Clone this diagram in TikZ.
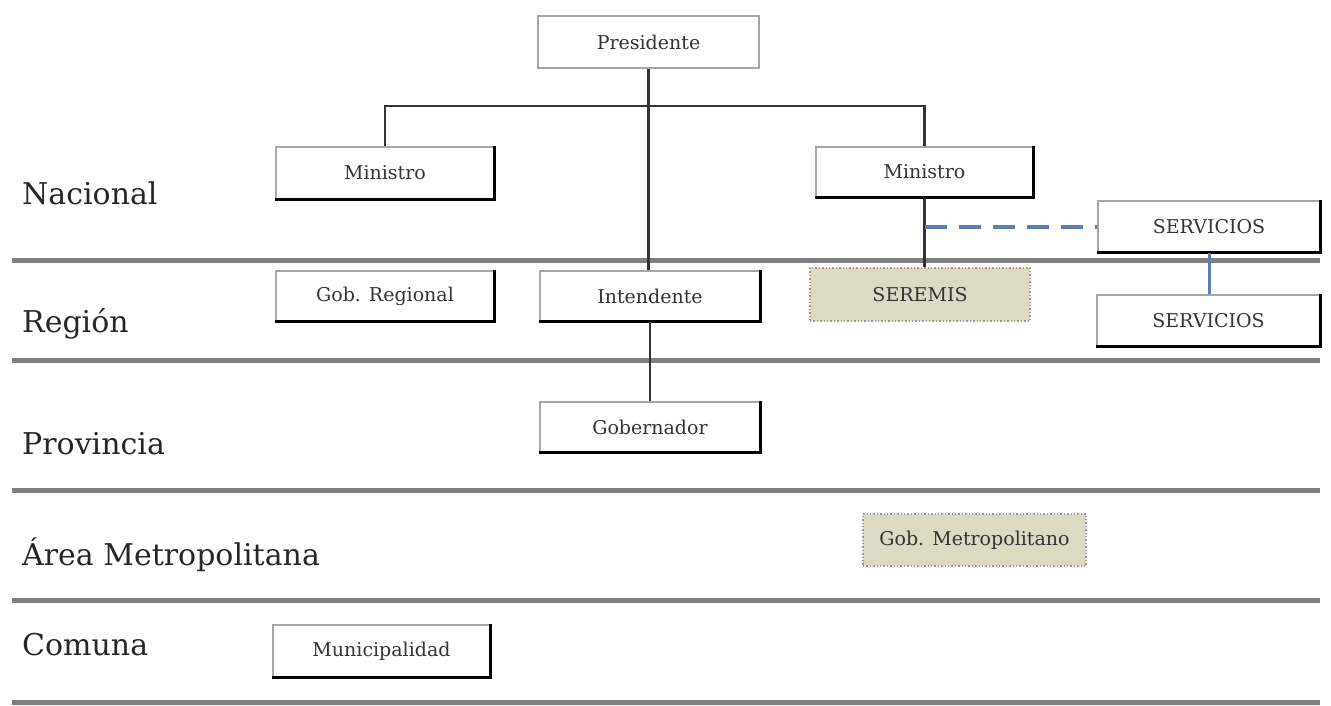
\documentclass[tikz,border=0pt]{standalone}
\usepackage{fontspec}
\setmainfont{DejaVu Serif}
\definecolor{beige}{HTML}{DDD9C3}
\definecolor{divgray}{HTML}{7F7F7F}
\definecolor{linkblue}{HTML}{5B7FB5}
\definecolor{txt}{HTML}{333333}
\begin{document}
\begin{tikzpicture}[x=1pt,y=-1pt,
  boxbase/.style={rectangle, inner sep=0pt, text=txt, font=\fontsize{19}{22}\selectfont},
  plainbox/.style={boxbase, draw=gray!70, line width=1.4pt},
  beigebox/.style={boxbase, draw=gray!80, dotted, line width=1.4pt, fill=beige},
  shad/.style={black, line width=3pt, line join=miter},
  conn/.style={draw=gray!40!black, line width=2.2pt},
  divider/.style={divgray, line width=5pt},
  level/.style={anchor=west, inner sep=0pt, text=black!85, font=\fontsize{30}{36}\selectfont}
]
\useasboundingbox (0,0) rectangle (1331,705);

% dividers
\foreach \yy in {260,360,490,600,702} \draw[divider] (12,\yy) -- (1320,\yy);

% level labels
\node[level] (lnac) at (22,193) {Nacional};
\node[level] (lreg) at (22,324) {Región};
\node[level] (lpro) at (22,444) {Provincia};
\node[level] (lmet) at (22,555) {Área Metropolitana};
\node[level] (lcom) at (22,645) {Comuna};

% boxes
\node[plainbox, minimum width=221pt, minimum height=52pt] (pres) at (648.5,42) {Presidente};
\node[plainbox, minimum width=218pt, minimum height=52pt] (ml) at (385,173) {Ministro};
\node[plainbox, minimum width=217pt, minimum height=50pt] (mr) at (924.5,172) {Ministro};
\node[plainbox, minimum width=222pt, minimum height=51pt] (st) at (1209,226.5) {SERVICIOS};
\node[plainbox, minimum width=218pt, minimum height=50pt] (gr) at (385,296) {Gob. Regional};
\node[plainbox, minimum width=220pt, minimum height=50pt] (int) at (650,296) {Intendente};
\node[beigebox, minimum width=220pt, minimum height=53pt] (ser) at (920,294.5) {SEREMIS};
\node[plainbox, minimum width=223pt, minimum height=51pt] (sb) at (1208.5,320.5) {SERVICIOS};
\node[plainbox, minimum width=220pt, minimum height=50pt] (gob) at (650,427) {Gobernador};
\node[beigebox, minimum width=223pt, minimum height=52pt] (gm) at (974.5,540) {Gob. Metropolitano};
\node[plainbox, minimum width=217pt, minimum height=52pt] (mun) at (381.5,651) {Municipalidad};

% shadows (thick right and bottom edges)
\foreach \n in {ml,mr,st,gr,int,sb,gob,mun}
  \draw[shad] (\n.south west) -- (\n.south east) -- (\n.north east);

% connectors
\draw[conn] (pres.south) -- (pres.south |- int.north);
\draw[conn] (ml.north) -- ++(0,-40) -| (mr.north);
\draw[conn] (mr.south) -- (mr.south |- ser.north);
\draw[conn] (int.south) -- (gob.north);
\draw[linkblue, line width=4pt, dash pattern=on 22pt off 12pt] (mr.south |- st.west) -- (st.west);
\draw[linkblue, line width=3pt] (st.south) -- (st.south |- sb.north);
\end{tikzpicture}
\end{document}
